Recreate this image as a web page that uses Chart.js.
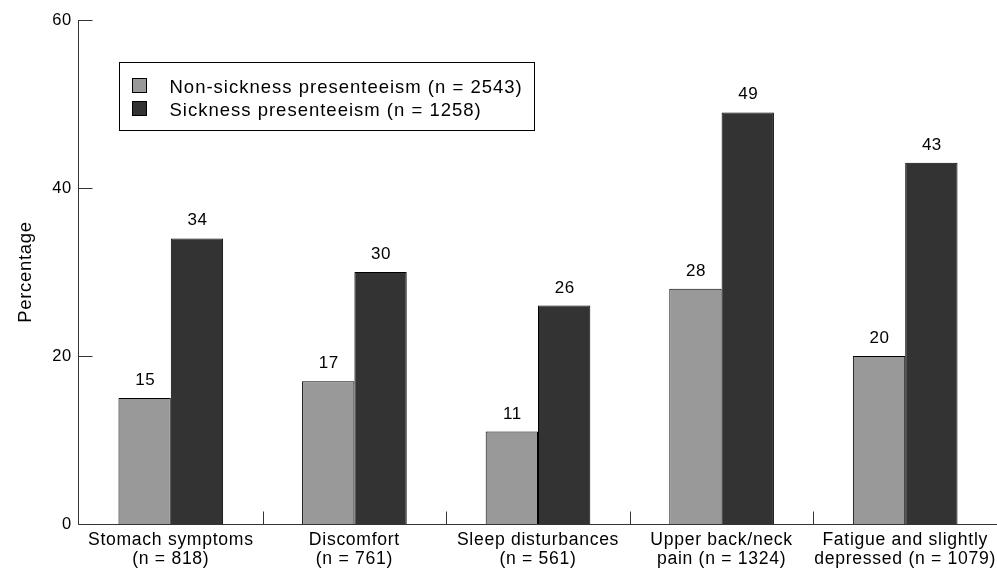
<!DOCTYPE html>
<html>
<head>
<meta charset="utf-8">
<script src="https://cdn.jsdelivr.net/npm/chart.js@4"></script>
<style>
  body { margin: 0; background: #fff; }
  canvas { display: block; }
</style>
</head>
<body>
<canvas id="myChart" width="997" height="569"></canvas>
<script>
const categories = [
    ["Stomach symptoms", "(n = 818)"],
    ["Discomfort", "(n = 761)"],
    ["Sleep disturbances", "(n = 561)"],
    ["Upper back/neck", "pain (n = 1324)"],
    ["Fatigue and slightly", "depressed (n = 1079)"]
]
const nonSickness = [15, 17, 11, 28, 20]
const sickness = [34, 30, 26, 49, 43]
const seriesNames = ["Non-sickness presenteeism (n = 2543)", "Sickness presenteeism (n = 1258)"]
const yTicks = [0, 20, 40, 60]

const fontName = "'Liberation Sans', Arial, Helvetica, sans-serif"

// letter spacing so the text is as wide as the original
const spacingPlugin = {
    id: 'spacing',
    beforeLayout(chart) { chart.ctx.letterSpacing = '0.7px' },
    beforeDraw(chart) { chart.ctx.letterSpacing = '0.7px' }
}

// axis lines and inward ticks
const axesPlugin = {
    id: 'axesLines',
    afterDraw(chart) {
        const ctx = chart.ctx
        const area = chart.chartArea
        const x = chart.scales.x
        const y = chart.scales.y
        const left = Math.round(area.left) - 0.5
        const bottom = Math.round(area.bottom) + 0.5
        ctx.save()
        ctx.strokeStyle = '#333'
        ctx.lineWidth = 1
        ctx.beginPath()
        ctx.moveTo(left, Math.round(area.top))
        ctx.lineTo(left, bottom)
        ctx.lineTo(area.right, bottom)
        for (const t of yTicks) {
            const py = Math.round(y.getPixelForValue(t)) + 0.5
            ctx.moveTo(left, py)
            ctx.lineTo(left + 14, py)
        }
        for (let i = 1; i < categories.length; i++) {
            const px = Math.round((x.getPixelForValue(i - 1) + x.getPixelForValue(i)) / 2) + 0.5
            ctx.moveTo(px, bottom)
            ctx.lineTo(px, bottom - 13)
        }
        ctx.stroke()
        ctx.restore()
    }
}

// numbers above the bars
const labelsPlugin = {
    id: 'barValues',
    afterDatasetsDraw(chart) {
        const ctx = chart.ctx
        ctx.save()
        ctx.letterSpacing = '0.5px'
        ctx.font = '17px ' + fontName
        ctx.fillStyle = '#000'
        ctx.textAlign = 'center'
        ctx.textBaseline = 'alphabetic'
        chart.data.datasets.forEach((ds, i) => {
            const meta = chart.getDatasetMeta(i)
            meta.data.forEach((bar, j) => {
                ctx.fillText(String(ds.data[j]), bar.x + 0.5, bar.y - 13)
            })
        })
        ctx.restore()
    }
}

// boxed legend inside the plot
const legendPlugin = {
    id: 'boxLegend',
    afterDraw(chart) {
        const ctx = chart.ctx
        const area = chart.chartArea
        const bx = Math.round(area.left) + 40.5
        const by = Math.round(area.top) + 42.5
        ctx.save()
        ctx.strokeStyle = '#000'
        ctx.lineWidth = 1
        ctx.fillStyle = '#fff'
        ctx.fillRect(bx, by, 415, 68)
        ctx.strokeRect(bx, by, 415, 68)
        ctx.letterSpacing = '1px'
        ctx.font = '18.5px ' + fontName
        ctx.textAlign = 'left'
        ctx.textBaseline = 'alphabetic'
        chart.data.datasets.forEach((ds, i) => {
            const sy = by + 16 + i * 23
            ctx.fillStyle = ds.backgroundColor
            ctx.fillRect(bx + 13, sy, 14, 14)
            ctx.strokeRect(bx + 13, sy, 14, 14)
            ctx.fillStyle = '#000'
            ctx.fillText(ds.label, bx + 50, sy + 14)
        })
        ctx.restore()
    }
}

const config = {
    type: 'bar',
    data: {
        labels: categories,
        datasets: [
            {
                label: seriesNames[0],
                data: nonSickness,
                backgroundColor: '#999999',
                borderColor: '#000',
                borderWidth: 1,
                borderSkipped: 'bottom',
                barPercentage: 1,
                categoryPercentage: 0.57
            },
            {
                label: seriesNames[1],
                data: sickness,
                backgroundColor: '#333333',
                borderColor: '#000',
                borderWidth: 1,
                borderSkipped: 'bottom',
                barPercentage: 1,
                categoryPercentage: 0.57
            }
        ]
    },
    options: {
        responsive: false,
        animation: false,
        layout: { padding: { top: 20, right: 0, bottom: 0, left: 0 } },
        plugins: {
            legend: { display: false },
            tooltip: { enabled: false }
        },
        scales: {
            x: {
                grid: { display: false, drawTicks: false },
                border: { display: false },
                ticks: {
                    color: '#000',
                    font: { family: fontName, size: 17.6, lineHeight: 1.12 },
                    padding: 6,
                    maxRotation: 0,
                    autoSkip: false
                },
                afterFit(scale) {
                    scale.height = 45
                    scale.paddingLeft = 0
                    scale.paddingRight = 0
                }
            },
            y: {
                min: 0,
                max: 60,
                grid: { display: false, drawTicks: false },
                border: { display: false },
                ticks: {
                    stepSize: 20,
                    color: '#000',
                    font: { family: fontName, size: 16.5 },
                    padding: 7
                },
                title: {
                    display: true,
                    text: 'Percentage',
                    color: '#000',
                    font: { family: fontName, size: 18.5 },
                    padding: { top: 15, bottom: 0 }
                },
                afterFit(scale) { scale.width = 79 }
            }
        }
    },
    plugins: [spacingPlugin, axesPlugin, labelsPlugin, legendPlugin]
}

new Chart(document.getElementById('myChart'), config)
</script>
</body>
</html>
